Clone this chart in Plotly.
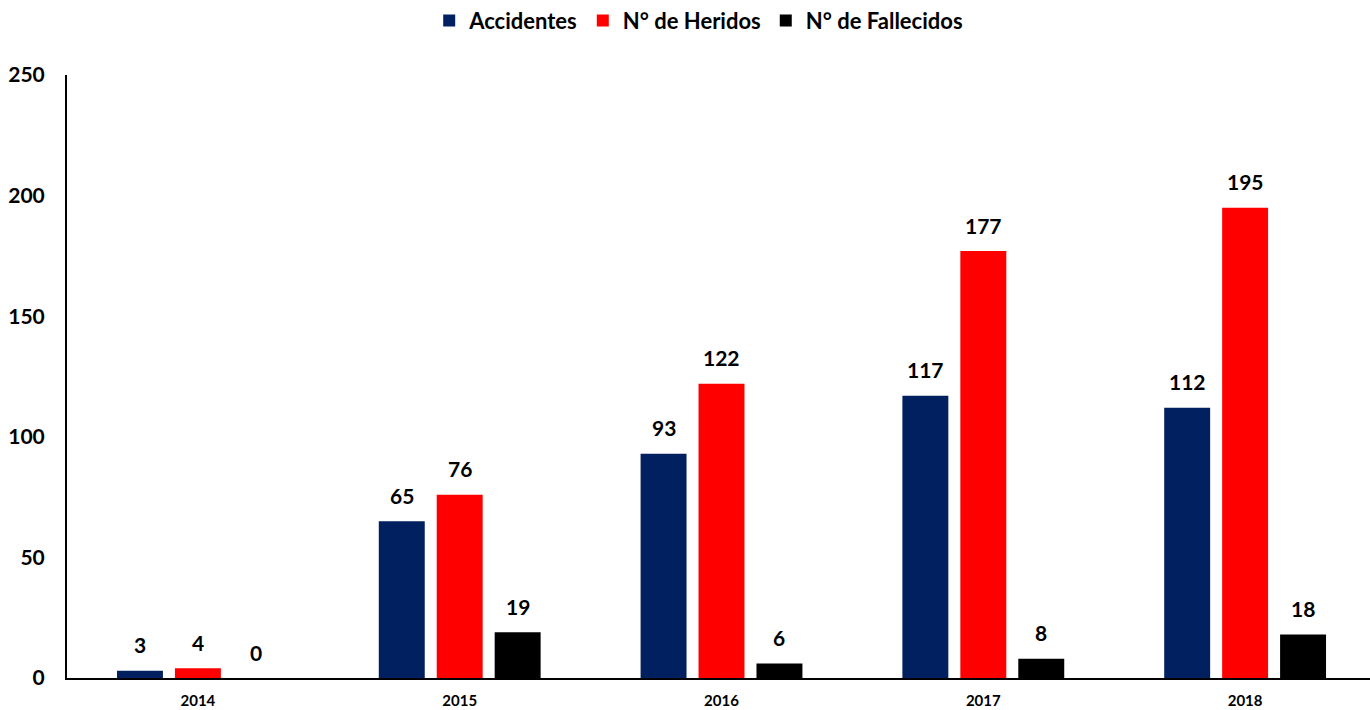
import plotly.graph_objects as go

years = ["2014", "2015", "2016", "2017", "2018"]
accidentes = [3, 65, 93, 117, 112]
heridos = [4, 76, 122, 177, 195]
fallecidos = [0, 19, 6, 8, 18]
y_ticks = [0, 50, 100, 150, 200, 250]

series = [
    ("Accidentes", accidentes, "#002060"),
    ("N° de Heridos", heridos, "#FF0000"),
    ("N° de Fallecidos", fallecidos, "#000000"),
]

FONT = "Lato, Calibri, Arial, sans-serif"

fig = go.Figure()
for name, vals, col in series:
    fig.add_trace(go.Bar(
        x=years, y=vals, name=name, marker_color=col,
        marker_line_width=0,
        text=[str(v) for v in vals], textposition="none",
    ))

# value labels above bars
n = len(series)
slot = (1 - 0.336) / n
for i, (name, vals, col) in enumerate(series):
    off = (i - (n - 1) / 2) * slot
    for j, v in enumerate(vals):
        fig.add_annotation(
            x=j + off, y=v, xref="x", yref="y", text=f"<b>{v}</b>",
            showarrow=False, yanchor="middle", yshift=26,
            font=dict(size=21, color="#000000", family=FONT),
        )

fig.update_layout(
    width=1370, height=710,
    margin=dict(l=67, r=0, t=75, b=32),
    plot_bgcolor="white", paper_bgcolor="white",
    barmode="group", bargap=0.336, bargroupgap=0.207,
    font=dict(family=FONT, color="#000000"),
    showlegend=True,
    legend=dict(
        orientation="h", xref="container", yref="container",
        x=0.51, xanchor="center", y=0.971, yanchor="middle",
        font=dict(size=22, family=FONT, weight="bold"),
        itemwidth=30, traceorder="normal",
    ),
    xaxis=dict(
        type="category", range=[-0.5, 4.477], automargin=False,
        showline=True, linecolor="#000000", linewidth=2,
        showgrid=False, ticks="", zeroline=False,
        tickfont=dict(size=15, family=FONT, weight="bold"),
        ticklabelstandoff=8,
    ),
    yaxis=dict(
        range=[0, 250], tickvals=y_ticks, automargin=False,
        showline=True, linecolor="#000000", linewidth=2,
        showgrid=False, ticks="", zeroline=False,
        tickfont=dict(size=21, family=FONT, weight="bold"),
        ticklabelstandoff=16,
    ),
)

fig.write_html(
    "out.html",
    config={"displayModeBar": False},
    post_script="document.body.style.margin='0';document.body.style.overflow='hidden';",
)
